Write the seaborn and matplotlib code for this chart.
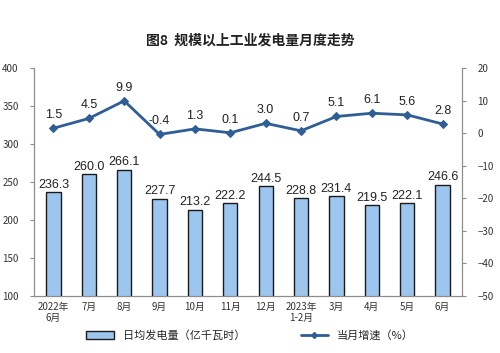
import numpy as np
import pandas as pd
import matplotlib
matplotlib.use('Agg')
import matplotlib.pyplot as plt
import seaborn as sns
from matplotlib.patches import Patch
from matplotlib.lines import Line2D

sns.set_theme(style="white")
plt.rcParams['font.family'] = ['Noto Sans CJK SC', 'DejaVu Sans']

# Données
months = ['2022年\n6月', '7月', '8月', '9月', '10月', '11月', '12月',
          '2023年\n1-2月', '3月', '4月', '5月', '6月']
daily_output = [236.3, 260.0, 266.1, 227.7, 213.2, 222.2, 244.5,
                228.8, 231.4, 219.5, 222.1, 246.6]
growth = [1.5, 4.5, 9.9, -0.4, 1.3, 0.1, 3.0, 0.7, 5.1, 6.1, 5.6, 2.8]

df = pd.DataFrame({'month': months, 'output': daily_output, 'growth': growth})
df['pos'] = np.arange(len(df))

bar_color = '#9DC6EF'
line_color = '#2F5E96'
axis_color = '#8C8C8C'

fig = plt.figure(figsize=(5, 3.53), dpi=100)
ax = fig.add_axes([0.068, 0.1615, 0.856, 0.646])

sns.barplot(data=df, x='month', y='output', color=bar_color, width=0.4,
            edgecolor='#1A1A1A', linewidth=1.0, saturation=1, ax=ax)
ax.set_ylim(100, 400)
ax.set_yticks(range(100, 401, 50))
ax.set_xlim(-0.55, len(df) - 0.45)
ax.set_xlabel('')
ax.set_ylabel('')
for x, v in zip(df['pos'], df['output']):
    ax.text(x, v + 2, f'{v:.1f}', ha='center', va='bottom', fontsize=9,
            family='Liberation Sans', color='#222222')

ax2 = ax.twinx()
sns.lineplot(x=df['pos'], y=df['growth'], color=line_color, linewidth=2,
             marker='D', markersize=4, markeredgecolor=line_color, ax=ax2)
ax2.set_ylim(-50, 20)
ax2.set_yticks(range(-50, 21, 10))
ax2.set_ylabel('')
for x, v in zip(df['pos'], df['growth']):
    ax2.text(x, v + 2.2, f'{v:.1f}', ha='center', va='bottom', fontsize=9,
             family='Liberation Sans', color='#222222')

for a in (ax, ax2):
    a.spines['top'].set_visible(False)
    for s in ('left', 'right', 'bottom'):
        a.spines[s].set_color(axis_color)
        a.spines[s].set_linewidth(0.8)
    a.tick_params(axis='both', labelsize=7, colors='#333333', length=3,
                  color=axis_color, width=0.8)
ax.tick_params(axis='x', length=0, pad=4)
ax.tick_params(axis='y', pad=8)
ax2.tick_params(axis='y', pad=8)

fig.text(0.5, 0.885, '图8  规模以上工业发电量月度走势', ha='center', va='center',
         fontsize=10, fontweight='bold', color='#222222')

handles = [Patch(facecolor=bar_color, edgecolor='#1A1A1A', linewidth=1.0),
           Line2D([0], [0], color=line_color, linewidth=2, marker='D', markersize=3)]
fig.legend(handles, ['日均发电量（亿千瓦时）', '当月增速（%）'], loc='center',
           bbox_to_anchor=(0.5, 0.05), ncol=2, frameon=False, fontsize=8,
           columnspacing=5, handlelength=2.5)

fig.savefig('out.png', dpi=100)
